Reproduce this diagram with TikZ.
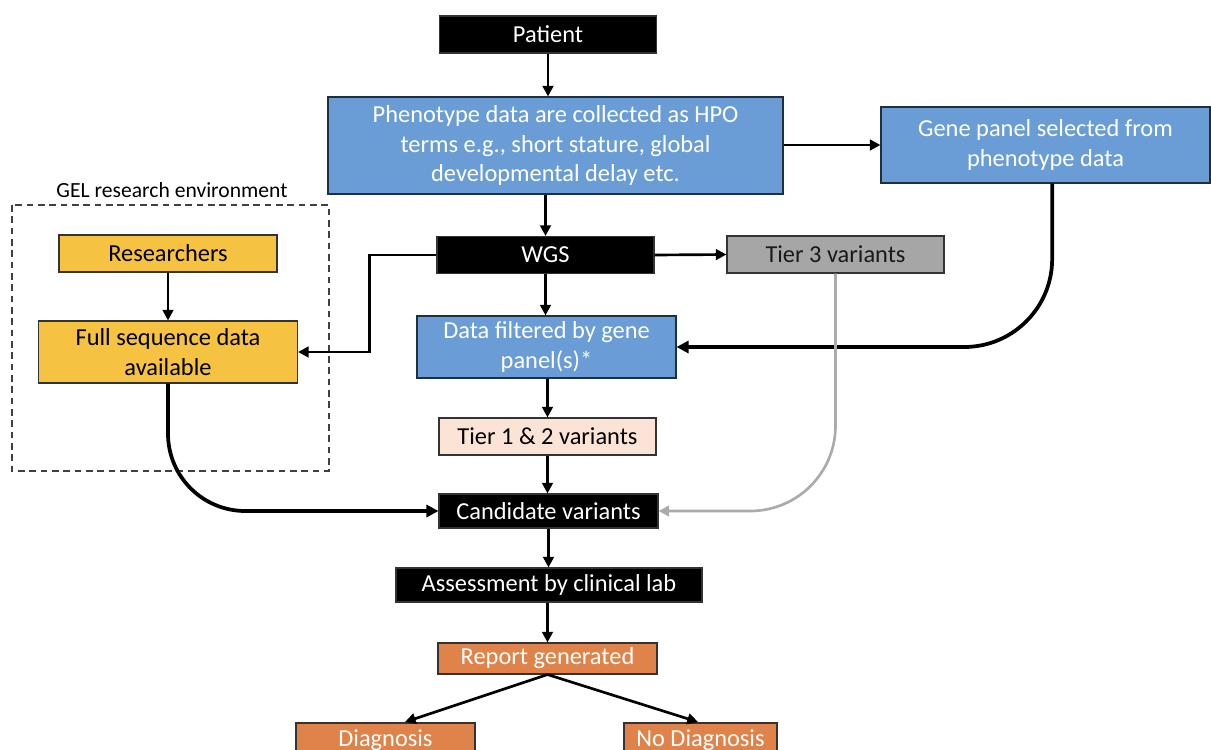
\documentclass[tikz,border=0pt]{standalone}
\usepackage{fontspec}
\setmainfont{Carlito}
\usetikzlibrary{arrows.meta}
\definecolor{bluebox}{HTML}{6A9DD6}
\definecolor{yellowbox}{HTML}{F5C242}
\definecolor{orangebox}{HTML}{E0834A}
\definecolor{peachbox}{HTML}{FBE4D5}
\definecolor{graybox}{HTML}{A6A6A6}
\definecolor{grayline}{HTML}{ABABAB}
\tikzset{
  box/.style args={#1/#2}{draw=black!80, line width=0.8pt, inner sep=2pt, align=center,
    minimum width=#1*0.75pt, minimum height=#2*0.75pt,
    font=\fontsize{18.3}{22.5}\selectfont},
  blackbox/.style={fill=black, text=white},
  bluefill/.style={fill=bluebox, text=white, draw=black!70!bluebox},
  yellowfill/.style={fill=yellowbox, text=black},
  orangefill/.style={fill=orangebox, text=white},
  peachfill/.style={fill=peachbox, text=black},
  grayfill/.style={fill=graybox, text=black!90},
  arr/.style={line width=2pt, -{Triangle[length=8pt,width=8pt]}},
  thickarr/.style={line width=2.8pt, -{Triangle[length=9pt,width=9pt]}},
  grayarr/.style={draw=grayline, line width=2pt, -{Triangle[length=8pt,width=8pt]}},
}
\begin{document}
\begin{tikzpicture}[x=0.75pt, y=-0.75pt]
\useasboundingbox[fill=white] (0,0) rectangle (1211,750);
% dashed environment
\draw[draw=black!75, line width=0.9pt, dash pattern=on 5pt off 3.5pt] (12,205) rectangle (329,471);
\node[font=\fontsize{16.2}{19}\selectfont] (gel) at (172,190) {GEL research environment};
% nodes
\node[box=217/37, blackbox] (patient) at (548,34.5) {Patient};
\node[box=455/97, bluefill, font=\fontsize{18.3}{22}\selectfont] (pheno) at (555.5,145.5) {Phenotype data are collected as HPO\\terms e.g., short stature, global\\developmental delay etc.};
\node[box=329/76, bluefill] (gene) at (1045.5,145) {Gene panel selected from\\phenotype data};
\node[box=217/37, blackbox] (wgs) at (545.5,255) {WGS};
\node[box=217/37, grayfill] (tier3) at (835.5,254.5) {Tier 3 variants};
\node[box=218/37, yellowfill] (res) at (168,253.5) {Researchers};
\node[box=259/62, yellowfill] (full) at (168,352) {Full sequence data\\available};
\node[box=259/62, bluefill] (filter) at (546.5,347) {Data filtered by gene\\panel(s)*};
\node[box=217/37, peachfill] (tier12) at (547.5,436.5) {Tier 1 \& 2 variants};
\node[box=219/34, blackbox] (cand) at (548.5,511) {Candidate variants};
\node[box=306/34, blackbox] (assess) at (549,585) {Assessment by clinical lab};
\node[box=219/31, orangefill] (report) at (547.5,658.5) {Report generated};
\node[box=179/34, orangefill] (diag) at (385.5,740) {Diagnosis};
\node[box=153/34, orangefill] (nodiag) at (700.5,740) {No Diagnosis};
% connectors
\draw[arr] (patient.south) -- (patient.south |- pheno.north);
\draw[arr] (pheno.east |- gene.west) -- (gene.west);
\draw[arr] (wgs.north |- pheno.south) -- (wgs.north);
\draw[arr] (wgs.east) -- (tier3.west);
\draw[arr] (wgs.west) -- ++(-67,0) |- (full.east);
\draw[arr] (res.south) -- (full.north);
\draw[arr] (wgs.south) -- (wgs.south |- filter.north);
\draw[arr] (tier12.north |- filter.south) -- (tier12.north);
\draw[arr] (tier12.south) -- (tier12.south |- cand.north);
\draw[arr] (cand.south) -- (cand.south |- assess.north);
\draw[arr] (report.north |- assess.south) -- (report.north);
\draw[thickarr, rounded corners=58pt] (full.south) |- (cand.west);
\draw[thickarr, rounded corners=66pt] ([xshift=5pt]gene.south) |- (filter.east);
\draw[grayarr, rounded corners=64pt] (tier3.south) |- (cand.east);
\coordinate (dtip) at (405,722);
\coordinate (ntip) at (698,722);
\draw[arr] (report.south) -- (dtip);
\draw[arr] (report.south) -- (ntip);
\end{tikzpicture}
\end{document}
